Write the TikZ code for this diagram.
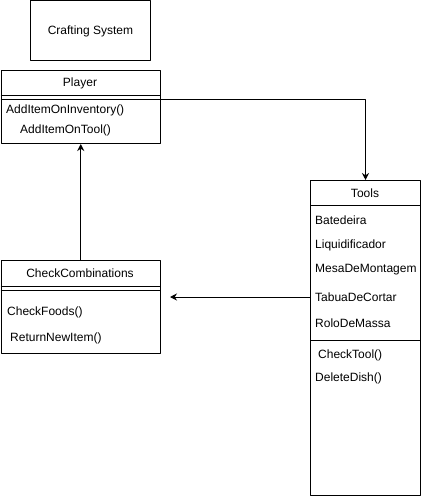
\documentclass[tikz,border=0pt]{standalone}
\usepackage{fontspec}
\setmainfont{Liberation Sans}
\usetikzlibrary{arrows.meta}
\tikzset{
  classbox/.style={draw, line width=1pt, inner sep=0pt, anchor=north west},
  member/.style={inner sep=0pt, anchor=west},
  link/.style={line width=1pt, -{Stealth[length=7pt,width=7pt]}},
}
\begin{document}
\begin{tikzpicture}[x=1pt, y=-1pt, line join=round, font=\fontsize{12}{14}\selectfont]
                \useasboundingbox (0,0) rectangle (421,497);
                % title box
                \node[classbox, minimum width=120pt, minimum height=60pt] (crafting) at (30,0.5) {};
                \node (craftingtext) at (crafting.center) {Crafting System};
                % Player
                \node[classbox, minimum width=159.5pt, minimum height=73pt] (player) at (0.5,70) {};
                \node (playertitle) at (80,83) {Player};
                \draw[line width=1pt] ([yshift=-26pt]player.north west) -- ([yshift=-26pt]player.north east);
                \draw[line width=1pt] ([yshift=-30pt]player.north west) -- ([yshift=-30pt]player.north east);
                \node[member] (additeminv) at (6,110) {AddItemOnInventory()};
                \node[member] (additemtool) at (20,130) {AddItemOnTool()};
                % CheckCombinations
                \node[classbox, minimum width=159.5pt, minimum height=93pt] (checkcomb) at (0.5,260) {};
                \node (checkcombtitle) at (80,273) {CheckCombinations};
                \draw[line width=1pt] ([yshift=-26pt]checkcomb.north west) -- ([yshift=-26pt]checkcomb.north east);
                \draw[line width=1pt] ([yshift=-30pt]checkcomb.north west) -- ([yshift=-30pt]checkcomb.north east);
                \node[member] (checkfoods) at (7,312) {CheckFoods()};
                \node[member] (returnnew) at (10,338) {ReturnNewItem()};
                % Tools
                \node[classbox, minimum width=110pt, minimum height=315pt] (tools) at (310,180) {};
                \node (toolstitle) at (365,193) {Tools};
                \draw[line width=1pt] ([yshift=-25pt]tools.north west) -- ([yshift=-25pt]tools.north east);
                \node[member] (batedeira) at (315,220) {Batedeira};
                \node[member] (liquidificador) at (315,245) {Liquidificador};
                \node[member] (mesa) at (315,270) {MesaDeMontagem};
                \node[member] (tabua) at (315,297) {TabuaDeCortar};
                \node[member] (rolo) at (315,323) {RoloDeMassa};
                \draw[line width=1pt] ([yshift=-160pt]tools.north west) -- ([yshift=-160pt]tools.north east);
                \node[member] (checktool) at (318,355) {CheckTool()};
                \node[member] (deletedish) at (315,378) {DeleteDish()};
                % connectors
                \coordinate (playerout) at (160,100);
                \coordinate (combin) at (170,297);
                \draw[link] (playerout) -| (tools.north);
                \draw[link] (tools.west |- tabua) -- (combin);
                \draw[link] (checkcomb.north) -- (player.south);
\end{tikzpicture}
\end{document}
